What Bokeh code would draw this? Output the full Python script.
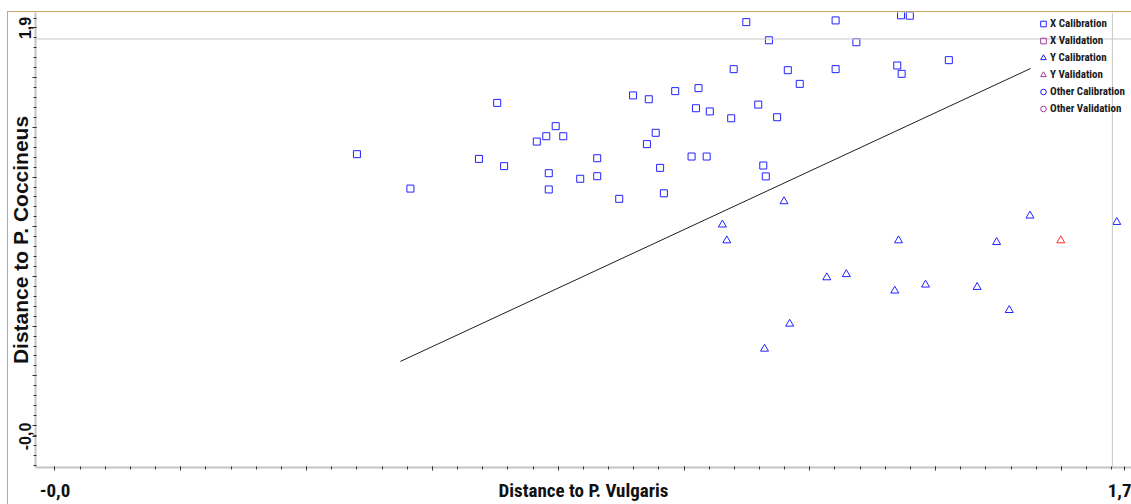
from bokeh.plotting import figure
from bokeh.models import (Range1d, FixedTicker, CustomJSTickFormatter, Span,
                          Legend, LegendItem)
from bokeh.embed import file_html
from bokeh.resources import INLINE

# Coomans plot: distance of each sample to the P. vulgaris and P. coccineus models
xcal_vulgaris = [0.480, 0.565, 0.703, 0.674, 0.714, 0.766, 0.781, 0.796, 0.808, 0.785,
                 0.785, 0.835, 0.862, 0.862, 0.897, 0.919, 0.944, 0.986, 0.955, 0.941,
                 0.962, 0.968, 1.099, 1.135, 1.241, 1.274, 1.345, 1.359, 1.079, 1.165,
                 1.241, 1.339, 1.346, 1.421, 1.184, 1.023, 1.019, 1.041, 1.075, 1.118,
                 1.148, 1.012, 1.036, 1.126, 1.130]
xcal_coccineus = [1.301, 1.140, 1.541, 1.279, 1.245, 1.360, 1.385, 1.432, 1.385, 1.212,
                  1.136, 1.186, 1.282, 1.198, 1.092, 1.576, 1.558, 1.596, 1.401, 1.348,
                  1.237, 1.118, 1.919, 1.834, 1.927, 1.825, 1.951, 1.949, 1.699, 1.694,
                  1.699, 1.716, 1.677, 1.741, 1.630, 1.610, 1.516, 1.501, 1.469, 1.533,
                  1.474, 1.290, 1.290, 1.248, 1.197]

ycal_vulgaris = [1.159, 1.061, 1.068, 1.341, 1.497, 1.550, 1.688, 1.227, 1.258, 1.335,
                 1.384, 1.466, 1.517, 1.168, 1.128]
ycal_coccineus = [1.080, 0.971, 0.897, 0.897, 0.889, 1.013, 0.983, 0.724, 0.739, 0.662,
                  0.690, 0.679, 0.571, 0.507, 0.390]

yval_vulgaris = [1.599]
yval_coccineus = [0.897]

# class boundary line
boundary_vulgaris = [0.549, 1.551]
boundary_coccineus = [0.331, 1.702]

# critical distance limits
limit_vulgaris = 1.681
limit_coccineus = 1.840

legend_labels = ["X Calibration", "X Validation", "Y Calibration",
                 "Y Validation", "Other Calibration", "Other Validation"]

NARROW = "'Roboto Condensed', 'Open Sans Condensed', 'Liberation Sans Narrow', 'Liberation Sans'"
REGULAR = "Liberation Sans"
BLUE = "#2222ff"
PURPLE = "#a03c9c"
RED = "#ff2a2a"
FRAME_BROWN = "#c9a66b"
NAN = float("nan")

p = figure(width=1131, height=504,
           x_range=Range1d(-0.031, 1.7114), y_range=Range1d(-0.1652, 1.964),
           output_backend="svg", toolbar_location=None,
           min_border_left=35, min_border_right=0, min_border_top=12,
           min_border_bottom=37)
# thin brown rule along the top and left of the panel, drawn behind a transparent border area
p.styles = {
    "background-color": "white",
    "background-image": f"linear-gradient({FRAME_BROWN}, {FRAME_BROWN}), "
                        f"linear-gradient({FRAME_BROWN}, {FRAME_BROWN})",
    "background-size": "1px 493px, 1124px 1px",
    "background-position": "7px 11px, 7px 11px",
    "background-repeat": "no-repeat",
}
p.border_fill_color = None
p.background_fill_color = "white"
p.outline_line_color = None
p.xgrid.visible = False
p.ygrid.visible = False

# limit lines
p.add_layout(Span(location=limit_coccineus, dimension="width",
                  line_color="#c8c8c8", line_width=1))
p.add_layout(Span(location=limit_vulgaris, dimension="height",
                  line_color="#c8c8c8", line_width=1))

p.line(boundary_vulgaris, boundary_coccineus, line_color="#1e1e1e", line_width=1)

r_xcal = p.scatter(xcal_vulgaris, xcal_coccineus, marker="square", size=7,
                   fill_color=None, line_color=BLUE, line_width=1)
r_ycal = p.scatter(ycal_vulgaris, ycal_coccineus, marker="triangle", size=8,
                   fill_color=None, line_color=BLUE, line_width=1)
p.scatter(yval_vulgaris, yval_coccineus, marker="triangle", size=8,
          fill_color=None, line_color=RED, line_width=1)

# symbols for the legend entries that have no samples in this plot
r_xval = p.scatter([NAN], [NAN], marker="square", size=7, fill_color=None,
                   line_color=PURPLE, line_width=1)
r_yval = p.scatter([NAN], [NAN], marker="triangle", size=8, fill_color=None,
                   line_color=PURPLE, line_width=1)
r_ocal = p.scatter([NAN], [NAN], marker="circle", size=7, fill_color=None,
                   line_color=BLUE, line_width=1)
r_oval = p.scatter([NAN], [NAN], marker="circle", size=7, fill_color=None,
                   line_color=PURPLE, line_width=1)

legend = Legend(items=[LegendItem(label=lab, renderers=[r], index=0) for lab, r in
                       zip(legend_labels, [r_xcal, r_xval, r_ycal, r_yval, r_ocal, r_oval])],
                location=(1001, 351), orientation="vertical",
                glyph_width=14, glyph_height=15, label_height=15, label_width=10,
                label_standoff=0, spacing=2, padding=0, margin=0,
                background_fill_alpha=0, border_line_alpha=0,
                label_text_font=NARROW, label_text_font_size="11px",
                label_text_font_style="bold", label_text_color="#1a1a1a")
p.add_layout(legend)

label_code = """
for (let i = 0; i < vals.length; i++) {
    if (Math.abs(tick - vals[i]) < 1e-6) { return txt[i]; }
}
return "";
"""

# x axis
x_major = [round(0.2 * k, 4) for k in range(9)] + [1.7]
x_minor = [round(0.04 * k, 4) for k in range(43)]
xa = p.xaxis[0]
xa.ticker = FixedTicker(ticks=x_major, minor_ticks=x_minor)
xa.formatter = CustomJSTickFormatter(args=dict(vals=[0.0, 1.7], txt=["-0,0", "1,7"]),
                                     code=label_code)
xa.axis_label = "Distance to P. Vulgaris"
xa.axis_label_text_font = NARROW
xa.axis_label_text_font_size = "19px"
xa.axis_label_text_font_style = "bold"
xa.axis_label_text_color = "#111111"
xa.major_label_text_font = NARROW
xa.major_label_text_font_size = "19px"
xa.major_label_text_font_style = "bold"
xa.major_label_text_color = "#111111"
xa.major_label_standoff = 13
xa.axis_label_standoff = -21

# y axis
y_step = 0.23256
y_top = 1.8915
y_major = [round(y_top - y_step * k, 4) for k in range(9)] + [-0.02]
y_minor = [round(y_top - y_step / 5 * k, 4) for k in range(-1, 45)]
ya = p.yaxis[0]
ya.ticker = FixedTicker(ticks=y_major, minor_ticks=y_minor)
ya.formatter = CustomJSTickFormatter(args=dict(vals=[y_major[0], -0.02], txt=["1,9", "-0,0"]),
                                     code=label_code)
ya.axis_label = "Distance to P. Coccineus"
ya.axis_label_text_font = REGULAR
ya.axis_label_text_font_size = "21px"
ya.axis_label_text_font_style = "bold"
ya.axis_label_text_color = "#111111"
ya.major_label_text_font = REGULAR
ya.major_label_text_font_size = "16px"
ya.major_label_text_font_style = "bold"
ya.major_label_text_color = "#111111"
ya.major_label_orientation = "vertical"
ya.major_label_standoff = 1
ya.axis_label_standoff = -15

for ax in (xa, ya):
    ax.axis_line_color = "#c4c4c4"
    ax.axis_line_width = 2
    ax.major_tick_line_color = "#333333"
    ax.minor_tick_line_color = "#333333"
    ax.major_tick_out = 3
    ax.major_tick_in = 1
    ax.minor_tick_out = 2
    ax.minor_tick_in = 1

open("out.html", "w").write(file_html(p, INLINE))
